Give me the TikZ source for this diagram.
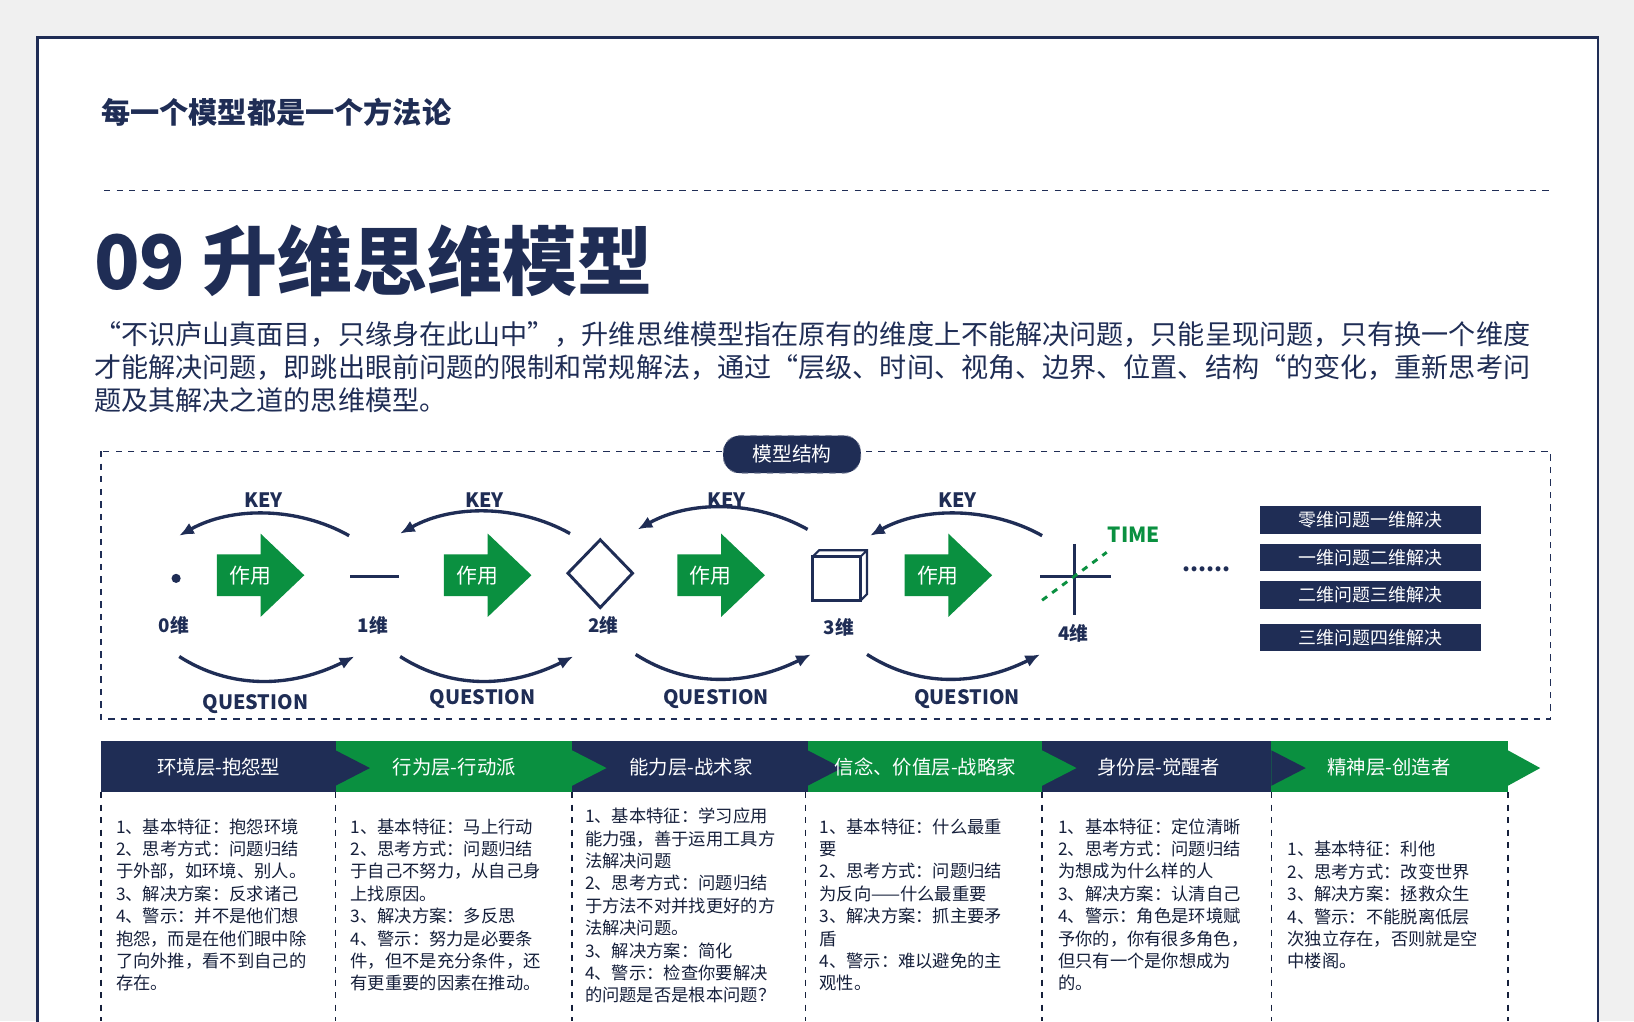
\documentclass[tikz,border=0pt]{standalone}
\usepackage{fontspec}
\setmainfont{Noto Sans CJK SC}
\usetikzlibrary{arrows.meta}
\definecolor{navy}{HTML}{1F2D55}
\definecolor{grn}{HTML}{0A9040}
\definecolor{bg}{HTML}{F0F0F0}
\begin{document}
\begin{tikzpicture}[x=0.5pt,y=-0.5pt,
  dim/.style={font=\fontsize{9}{10}\selectfont\bfseries,text=navy},
  key/.style={font=\fontsize{9.5}{10}\selectfont\bfseries,text=navy},
  arc/.style={navy,line width=1.6pt,-{Latex[length=7pt,width=6pt]}},
  fat/.style={fill=grn,draw=none},
  rbox/.style={fill=navy,text=white,minimum width=106pt,minimum height=13pt,inner sep=0pt,font=\fontsize{8.6}{9}\selectfont},
  band/.style={text=white,font=\fontsize{9.3}{10}\selectfont},
  col/.style={anchor=north west,align=left,inner sep=0pt,text=navy!70!black,font=\fontsize{8.3}{10.75}\selectfont}]
\useasboundingbox (0,0) rectangle (1568,980);
\fill[bg] (0,0) rectangle (1568,980);
\fill[white] (36,36) rectangle (1533,980);
\draw[navy,line width=1pt] (36,990) -- (36,36) -- (1533,36) -- (1533,990);
\node[anchor=west,text=navy,font=\fontsize{14}{16}\selectfont\bfseries] (head) at (90,108) {每一个模型都是一个方法论};
\draw[navy,dashed,line width=0.6pt] (100,183) -- (1488,183);
\node[anchor=west,text=navy,font=\fontsize{36}{40}\selectfont\bfseries,inner sep=0pt] (title) at (90,250) {09 升维思维模型};
\node[anchor=north west,align=left,inner sep=0pt,text=navy,font=\fontsize{13}{15.8}\selectfont] (para) at (90,308) {“不识庐山真面目，只缘身在此山中”，升维思维模型指在原有的维度上不能解决问题，只能呈现问题，只有换一个维度\\才能解决问题，即跳出眼前问题的限制和常规解法，通过“层级、时间、视角、边界、位置、结构“的变化，重新思考问\\题及其解决之道的思维模型。};
\draw[navy,dashed,line width=0.6pt] (97,433) rectangle (1488,690);
\node[fill=navy,draw=navy!60,dashed,rounded corners=8pt,text=white,minimum width=66pt,minimum height=18pt,font=\fontsize{9.5}{10}\selectfont] (ms) at (760,436) {模型结构};
% fat arrows
\foreach \cx/\n in {250/a1,468/a2,692/a3,910/a4}{
  \fill[fat] (\cx-42,532) -- (\cx,532) -- (\cx,512) -- (\cx+42,552) -- (\cx,592) -- (\cx,572) -- (\cx-42,572) -- cycle;
  \node[text=white,font=\fontsize{10}{10}\selectfont] (\n) at (\cx-10,552) {作用};
}
% shapes
\fill[navy] (169,555) circle (2.2pt);
\node (d0) at (169,555) {};
\draw[navy,line width=1.6pt] (336,553) -- (383,553);
\draw[navy,line width=1.4pt] (576,518) -- (607,550) -- (576,583) -- (545,550) -- cycle;
\draw[navy,line width=1.4pt] (780,534) rectangle (826,576);
\draw[navy,line width=1pt] (780,534) -- (786,528) -- (832,528) -- (832,570) -- (826,576) (826,534) -- (832,528);
\draw[navy,line width=1.4pt] (1031,522) -- (1031,590) (998,553) -- (1066,553);
\draw[grn,dashed,line width=1.4pt] (1000,576) -- (1062,530);
\node[font=\fontsize{10}{10}\selectfont\bfseries,text=grn] (time) at (1088,513) {TIME};
\node[text=navy,font=\fontsize{11}{11}\selectfont\bfseries] (dots) at (1158,546) {......};
\node[dim] (l0) at (167,600) {0维};
\node[dim] (l1) at (358,600) {1维};
\node[dim] (l2) at (579,600) {2维};
\node[dim] (l3) at (805,602) {3维};
\node[dim] (l4) at (1030,608) {4维};
% KEY arcs
\foreach \xr/\xl/\y/\kx/\n in {335/172/514/253/k1,547/384/512/465/k2,775/612/508/697/k3,1000/835/514/919/k4}{
  \draw[arc] (\xr,\y) .. controls ({\xr-50},{\y-28}) and ({\xl+50},{\y-28}) .. (\xl,\y);
  \node[key] (\n) at (\kx,480) {KEY};
}
\foreach \xl/\xr/\y/\qx/\qy/\n in {172/340/630/245/676/q1,384/550/630/463/671/q2,610/778/628/687/671/q3,832/998/628/928/671/q4}{
  \draw[arc] (\xl,\y) .. controls ({\xl+50},{\y+32}) and ({\xr-60},{\y+30}) .. (\xr,\y);
  \node[key] (\n) at (\qx,\qy) {QUESTION};
}
\node[rbox] (r1) at (1315,499) {零维问题一维解决};
\node[rbox] (r2) at (1315,535) {一维问题二维解决};
\node[rbox] (r3) at (1315,571) {二维问题三维解决};
\node[rbox] (r4) at (1315,612) {三维问题四维解决};
% bands
\fill[navy] (97,711) rectangle (322,760);
\fill[grn] (322,711) rectangle (549,760);
\fill[navy] (549,711) rectangle (775,760);
\fill[grn] (775,711) rectangle (1000,760);
\fill[navy] (1000,711) rectangle (1220,760);
\fill[grn] (1220,711) rectangle (1447,760);
\fill[navy] (322,720) -- (355,737) -- (322,754) -- cycle;
\fill[grn] (549,720) -- (582,737) -- (549,754) -- cycle;
\fill[navy] (775,720) -- (808,737) -- (775,754) -- cycle;
\fill[grn] (1000,720) -- (1033,737) -- (1000,754) -- cycle;
\fill[navy] (1220,720) -- (1253,737) -- (1220,754) -- cycle;
\fill[grn] (1447,720) -- (1478,737) -- (1447,754) -- cycle;
\node[band] (b1) at (210,736) {环境层-抱怨型};
\node[band] (b2) at (436,736) {行为层-行动派};
\node[band] (b3) at (663,736) {能力层-战术家};
\node[band] (b4) at (888,736) {信念、价值层-战略家};
\node[band] (b5) at (1112,736) {身份层-觉醒者};
\node[band] (b6) at (1333,736) {精神层-创造者};
\foreach \x in {97,322,549,773,1000,1220,1447}{
  \draw[navy!70!black,dashed,line width=0.6pt] (\x,760) -- (\x,980);
}
\node[col] (c1) at (111,785) {1、基本特征：抱怨环境\\2、思考方式：问题归结\\于外部，如环境、别人。\\3、解决方案：反求诸己\\4、警示：并不是他们想\\抱怨，而是在他们眼中除\\了向外推，看不到自己的\\存在。};
\node[col] (c2) at (336,785) {1、基本特征：马上行动\\2、思考方式：问题归结\\于自己不努力，从自己身\\上找原因。\\3、解决方案：多反思\\4、警示：努力是必要条\\件，但不是充分条件，还\\有更重要的因素在推动。};
\node[col] (c3) at (561,775) {1、基本特征：学习应用\\能力强，善于运用工具方\\法解决问题\\2、思考方式：问题归结\\于方法不对并找更好的方\\法解决问题。\\3、解决方案：简化\\4、警示：检查你要解决\\的问题是否是根本问题？};
\node[col] (c4) at (786,785) {1、基本特征：什么最重\\要\\2、思考方式：问题归结\\为反向——什么最重要\\3、解决方案：抓主要矛\\盾\\4、警示：难以避免的主\\观性。};
\node[col] (c5) at (1015,785) {1、基本特征：定位清晰\\2、思考方式：问题归结\\为想成为什么样的人\\3、解决方案：认清自己\\4、警示：角色是环境赋\\予你的，你有很多角色，\\但只有一个是你想成为\\的。};
\node[col] (c6) at (1235,807) {1、基本特征：利他\\2、思考方式：改变世界\\3、解决方案：拯救众生\\4、警示：不能脱离低层\\次独立存在，否则就是空\\中楼阁。};
\end{tikzpicture}
\end{document}
